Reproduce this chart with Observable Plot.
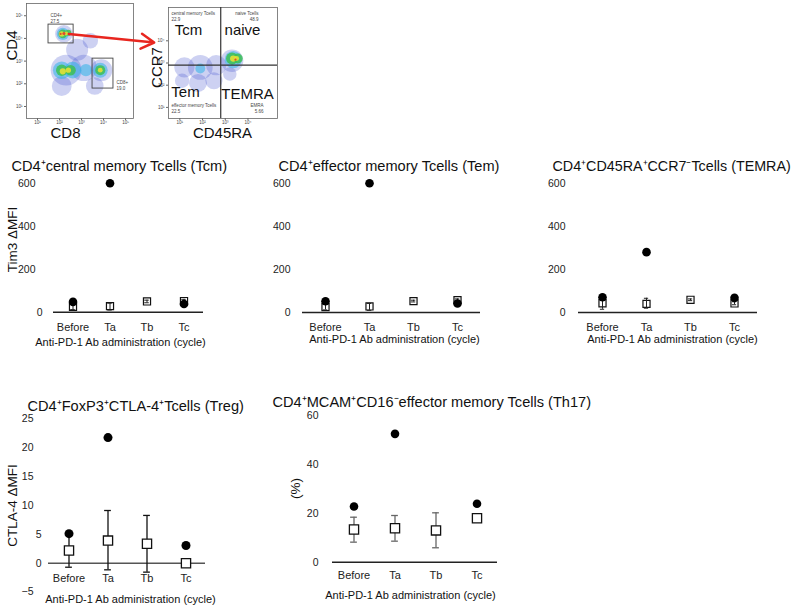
<!DOCTYPE html>
<html><head><meta charset="utf-8">
<script src="https://cdn.jsdelivr.net/npm/d3@7"></script>
<script src="https://cdn.jsdelivr.net/npm/@observablehq/plot@0.6"></script>
<style>
body{margin:0;background:#fff;}
#fig{position:relative;width:800px;height:612px;overflow:hidden;font-family:"Liberation Sans",Arial,sans-serif;background:#fff;}
#fig svg{position:absolute;}
</style></head><body><div id="fig"></div>
<script>
// ---------- summary panels data ----------
const cycles = ["Before", "Ta", "Tb", "Tc"];
const xTitle = "Anti-PD-1 Ab administration (cycle)";

// Tim3 ΔMFI, CD4+ central memory T cells
const tcmMean = [25, 28, 50, 52];
const tcmLo   = [12, 10, 44, 45];
const tcmHi   = [38, 42, 56, 60];
const tcmDot  = [48, 600, null, 38];
// Tim3 ΔMFI, CD4+ effector memory T cells
const temMean = [25, 28, 53, 57];
const temLo   = [12, 10, 49, 51];
const temHi   = [38, 42, 57, 63];
const temDot  = [52, 600, null, 42];
// Tim3 ΔMFI, TEMRA
const temraMean = [43, 40, 59, 42];
const temraLo   = [15, 20, 55, 36];
const temraHi   = [70, 66, 63, 50];
const temraDot  = [71, 280, null, 68];
// CTLA-4 ΔMFI, Treg
const tregMean = [2.2, 3.9, 3.35, 0];
const tregLo   = [-0.7, -1.15, -1.55, null];
const tregHi   = [5.2, 9.1, 8.25, null];
const tregDot  = [5.1, 21.7, null, 3.05];
// %, Th17
const th17Mean = [13.4, 13.9, 13.0, 18.0];
const th17Lo   = [8.2, 8.6, 5.9, null];
const th17Hi   = [18.4, 19.1, 20.2, null];
const th17Dot  = [22.8, 52.5, null, 23.9];

// ---------- flow cytometry (log10 fluorescence) ----------
// CD8 (x) vs CD4 (y) density clusters
const cd8Log   = [2.3, 3.1, 3.9, 2.8, 2.2, 2.1, 3.6, 3.4, 2.1, 2.6, 3.2, 3.85, 2.15, 2.1, 2.5, 3.85, 2.15, 2.4, 2.15, 2.4, 3.85, 2.1, 2.3, 2.2, 2.05];
const cd4Log   = [2.6, 2.7, 2.6, 3.5, 4.2, 1.9, 1.9, 3.9, 2.6, 2.6, 2.6, 2.6, 4.2, 2.6, 2.6, 2.6, 4.2, 4.25, 2.55, 2.6, 2.6, 4.2, 4.22, 4.22, 4.2];
const cd48Spread = [0.7, 0.6, 0.5, 0.5, 0.4, 0.45, 0.4, 0.35, 0.4, 0.38, 0.28, 0.34, 0.28, 0.26, 0.24, 0.23, 0.2, 0.14, 0.14, 0.12, 0.11, 0.12, 0.09, 0.07, 0.05];
const cd48Level  = [1, 1, 1, 1, 1, 1, 1, 1, 2, 2, 2, 2, 2, 3, 3, 3, 3, 3, 4, 4, 4, 4, 4, 5, 5];
const cd4Gate = {x1: 1.5, x2: 2.64, y1: 3.78, y2: 4.61};
const cd8Gate = {x1: 3.5, x2: 4.45, y1: 1.79, y2: 3.11};
const gateLabels = [
  {x: 1.59, y: 5.0, t: "CD4+"}, {x: 1.59, y: 4.74, t: "27.5"},
  {x: 4.59, y: 2.06, t: "CD8+"}, {x: 4.59, y: 1.79, t: "19.0"}
];
const arrowFrom = [2.42, 4.2], arrowTo = [6.3, 3.82];

// CD45RA (x) vs CCR7 (y) density clusters
const cd45raLog = [1.2, 1.9, 2.6, 3.3, 1.8, 2.5, 1.1, 3.2, 3.35, 1.9, 3.3, 3.55, 3.35, 3.5, 3.45];
const ccr7Log   = [2.8, 2.8, 2.9, 3.1, 2.1, 2.2, 2.2, 2.5, 3.15, 2.75, 3.2, 3.2, 3.2, 3.2, 3.15];
const ccrSpread = [0.45, 0.55, 0.45, 0.5, 0.4, 0.38, 0.32, 0.3, 0.38, 0.22, 0.27, 0.22, 0.14, 0.11, 0.05];
const ccrLevel  = [1, 1, 1, 1, 1, 1, 1, 1, 2, 2, 3, 3, 4, 4, 5];
const quadX = 2.8, quadY = 2.9;
const quadNames = [
  {x: 1.38, y: 4.46, t: "Tcm"}, {x: 3.76, y: 4.46, t: "naive"},
  {x: 1.25, y: 1.68, t: "Tem"}, {x: 3.98, y: 1.58, t: "TEMRA"}
];
const quadSmallLeft = [
  {x: 0.63, y: 5.23, t: "central memory Tcells"}, {x: 0.63, y: 4.96, t: "22.9"},
  {x: 0.63, y: 1.1, t: "effector memory Tcells"}, {x: 0.63, y: 0.83, t: "22.5"}
];
const quadSmallRight = [
  {x: 4.46, y: 5.23, t: "naive Tcells"}, {x: 4.46, y: 4.96, t: "48.9"},
  {x: 4.68, y: 1.1, t: "EMRA"}, {x: 4.68, y: 0.83, t: "5.66"}
];
const decadeTicks = [1, 2, 3, 4, 5];
const sup = {1: "¹", 2: "²", 3: "³", 4: "⁴", 5: "⁵"};

const fig = document.getElementById("fig");
const FONT = '"Liberation Sans", Arial, sans-serif';
const densityColors = ["#2c3fc8", "#2fb2e8", "#3dbf55", "#ece234", "#e5302a"];

function place(svg, x, y) { svg.style.left = x + "px"; svg.style.top = y + "px"; fig.append(svg); }

function flow(c) {
  const rows = c.xs.map((x, i) => ({x, y: c.ys[i], s: c.spread[i], lv: c.level[i]}));
  const fcx = (c.fx1 + c.fx2) / 2, fcy = (c.fy1 + c.fy2) / 2;
  const marks = [
    Plot.dot(rows.filter(d => d.lv === 1), {x: "x", y: "y", r: "s", fill: "lv", fillOpacity: 0.24, clip: true}),
    Plot.dot(rows.filter(d => d.lv === 2), {x: "x", y: "y", r: "s", fill: "lv", fillOpacity: 0.55, clip: true}),
    Plot.dot(rows.filter(d => d.lv > 2), {x: "x", y: "y", r: "s", fill: "lv", fillOpacity: 0.85, clip: true}),
    Plot.frame({stroke: "#666", strokeWidth: 0.8}),
    Plot.axisX(c.ticks, {tickSize: 2, tickPadding: 0, fontSize: 4.5, label: null, tickFormat: d => "10" + sup[d], stroke: "#666", fill: "#444"}),
    Plot.axisY(c.ticks, {tickSize: 2, tickPadding: 2, fontSize: 4.5, label: null, tickFormat: d => "10" + sup[d], stroke: "#666", fill: "#444"}),
    Plot.text([c.xLab], {text: d => d, frameAnchor: "bottom", textAnchor: "middle", dx: c.xLabX - fcx, dy: c.xLabY - c.fy2, fontSize: 15, fill: "#111"}),
    Plot.text([c.yLab], {text: d => d, frameAnchor: "left", textAnchor: "middle", rotate: -90, dx: c.yLabX - c.fx1, dy: c.yLabY - fcy, fontSize: 15, fill: "#111"}),
    ...c.extra
  ];
  const svg = Plot.plot({
    width: c.sw, height: c.sh,
    marginLeft: c.fx1 - c.sx, marginRight: c.sx + c.sw - c.fx2,
    marginTop: c.fy1 - c.sy, marginBottom: c.sy + c.sh - c.fy2,
    x: {domain: c.xDomain, label: null}, y: {domain: c.yDomain, label: null},
    r: {type: "linear", domain: [0, 1], range: [0, c.pxPerDecade]},
    color: {type: "ordinal", domain: [1, 2, 3, 4, 5], range: densityColors},
    style: {background: "transparent", overflow: "visible", fontFamily: FONT},
    marks
  });
  place(svg, c.sx, c.sy);
}

// CD45RA / CCR7 (drawn first, underneath)
flow({
  sx: 150, sy: 0, sw: 140, sh: 145, fx1: 168, fx2: 277, fy1: 7, fy2: 118,
  xDomain: [0.5, 5.3], yDomain: [0.5, 5.5], pxPerDecade: 22.5,
  xs: cd45raLog, ys: ccr7Log, spread: ccrSpread, level: ccrLevel, ticks: [1, 2, 3, 4],
  xLab: "CD45RA", xLabX: 222, xLabY: 137.5, yLab: "CCR7", yLabX: 157, yLabY: 67,
  extra: [
    Plot.ruleX([quadX], {stroke: "#333", strokeWidth: 1.2}),
    Plot.ruleY([quadY], {stroke: "#333", strokeWidth: 1.2}),
    Plot.text(quadNames, {x: "x", y: "y", text: "t", fontSize: 15, fill: "#111"}),
    Plot.text(quadSmallLeft, {x: "x", y: "y", text: "t", textAnchor: "start", fontSize: 4.5, fill: "#444"}),
    Plot.text(quadSmallRight, {x: "x", y: "y", text: "t", textAnchor: "end", fontSize: 4.5, fill: "#444"})
  ]
});

// CD8 / CD4 with gates and arrow
flow({
  sx: 0, sy: 0, sw: 170, sh: 145, fx1: 26, fx2: 133, fy1: 3, fy2: 118,
  xDomain: [0.5, 5.36], yDomain: [0.47, 5.54], pxPerDecade: 22,
  xs: cd8Log, ys: cd4Log, spread: cd48Spread, level: cd48Level, ticks: decadeTicks,
  xLab: "CD8", xLabX: 65, xLabY: 137.5, yLab: "CD4", yLabX: 12, yLabY: 45,
  extra: [
    Plot.rect([cd4Gate, cd8Gate], {x1: "x1", x2: "x2", y1: "y1", y2: "y2", fill: "none", stroke: "#444", strokeWidth: 0.9}),
    Plot.text(gateLabels, {x: "x", y: "y", text: "t", textAnchor: "start", fontSize: 4.5, fill: "#444"}),
    Plot.arrow([{a: arrowFrom, b: arrowTo}], {x1: d => d.a[0], y1: d => d.a[1], x2: d => d.b[0], y2: d => d.b[1], stroke: "#e8261f", strokeWidth: 2.5, headLength: 9})
  ]
});

function panel(c) {
  const rows = cycles.map((k, i) => ({cat: k, mean: c.mean[i], lo: c.lo[i], hi: c.hi[i], dot: c.dot[i]}));
  const bw = (c.fx2 - c.fx1) / cycles.length;
  const inset = (bw - c.capW) / 2;
  const errRows = rows.filter(d => d.lo != null);
  const eStyle = {stroke: c.errColor, strokeWidth: c.errW};
  const err = [
    Plot.ruleX(errRows, {x: "cat", y1: "lo", y2: "hi", ...eStyle}),
    Plot.tickY(errRows, {x: "cat", y: "lo", insetLeft: inset, insetRight: inset, ...eStyle}),
    Plot.tickY(errRows, {x: "cat", y: "hi", insetLeft: inset, insetRight: inset, ...eStyle})
  ];
  const sq = Plot.dot(rows, {x: "cat", y: "mean", symbol: "square", r: c.sqR, fill: "white", stroke: "#111", strokeWidth: c.sqW});
  const dots = Plot.dot(rows.filter(d => d.dot != null), {x: "cat", y: "dot", r: c.dotR, fill: "#000"});
  const fcx = (c.fx1 + c.fx2) / 2, fcy = (c.fyTop + c.fyBot) / 2;
  const axisStyle = {tickSize: 0, fontSize: c.tickFont, label: null, fill: "#222"};
  const marks = [
    Plot.ruleY([0], {stroke: c.baseColor, strokeWidth: 1.5}),
    ...(c.errOnTop ? [sq, ...err] : [...err, sq]),
    dots,
    Plot.axisY({ticks: c.ticks, tickPadding: c.fx1 - c.tickRight, ...axisStyle}),
    Plot.axisX({tickSize: 0, tickPadding: c.catY - c.fyBot - 4, fontSize: 11, label: null, fill: "#222"}),
    Plot.text([c.title], {text: d => d, frameAnchor: "top-left", textAnchor: "start", dx: c.titleX - c.fx1, dy: c.titleY - c.fyTop, fontSize: c.titleFont, fill: "#111"}),
    Plot.text([xTitle], {text: d => d, frameAnchor: "bottom", textAnchor: "middle", dx: c.xLabX - fcx, dy: c.xLabY - c.fyBot, fontSize: 11, fill: "#111"})
  ];
  if (c.shortTicks) marks.push(Plot.axisY({ticks: c.shortTicks, tickPadding: c.fx1 - c.shortRight, ...axisStyle}));
  if (c.yLab) marks.push(Plot.text([c.yLab], {text: d => d, frameAnchor: "left", textAnchor: "middle", rotate: -90, dx: c.yLabX - c.fx1, dy: c.yLabY - fcy, fontSize: 13.5, fill: "#111"}));
  const svg = Plot.plot({
    width: c.sw, height: c.sh,
    marginLeft: c.fx1 - c.sx, marginRight: c.sx + c.sw - c.fx2,
    marginTop: c.fyTop - c.sy, marginBottom: c.sy + c.sh - c.fyBot,
    x: {type: "band", domain: cycles, padding: 0},
    y: {domain: c.yDomain},
    style: {background: "transparent", overflow: "visible", fontFamily: FONT},
    marks
  });
  place(svg, c.sx, c.sy);
}

const topCommon = {sy: 145, sh: 215, yDomain: [0, 600], ticks: [0, 200, 400, 600], tickFont: 10.5,
  catY: 327, capW: 5, sqR: 4, sqW: 1.2, dotR: 4.3, errColor: "#222", errW: 1, baseColor: "#222", errOnTop: true};

panel({...topCommon, sx: 0, sw: 265, fx1: 53, fx2: 203, fyTop: 182.7, fyBot: 311.7,
  ticks: [200, 400, 600], tickRight: 35, shortTicks: [0], shortRight: 42,
  title: "CD4⁺central memory Tcells (Tcm)", titleX: 11, titleY: 160, titleFont: 14.6,
  yLab: "Tim3 ΔMFI", yLabX: 12, yLabY: 239, xLabX: 120, xLabY: 345,
  mean: tcmMean, lo: tcmLo, hi: tcmHi, dot: tcmDot});

panel({...topCommon, sx: 265, sw: 270, fx1: 302, fx2: 480, fyTop: 182.7, fyBot: 312, tickRight: 290,
  title: "CD4⁺effector memory Tcells (Tem)", titleX: 278, titleY: 160, titleFont: 14.6,
  xLabX: 394, xLabY: 342,
  mean: temMean, lo: temLo, hi: temHi, dot: temDot});

panel({...topCommon, sx: 535, sw: 265, fx1: 578, fx2: 757, fyTop: 182.7, fyBot: 312, tickRight: 565,
  title: "CD4⁺CD45RA⁺CCR7⁻Tcells (TEMRA)", titleX: 552, titleY: 160, titleFont: 14.3,
  xLabX: 672, xLabY: 342,
  mean: temraMean, lo: temraLo, hi: temraHi, dot: temraDot});

panel({sx: 0, sy: 380, sw: 265, sh: 232, fx1: 48, fx2: 205, fyTop: 418, fyBot: 591.6,
  yDomain: [-5, 25], ticks: [-5, 10, 15, 20, 25], tickFont: 10.5, tickRight: 33, shortTicks: [0, 5], shortRight: 41,
  title: "CD4⁺FoxP3⁺CTLA-4⁺Tcells (Treg)", titleX: 27, titleY: 400, titleFont: 14.6,
  yLab: "CTLA-4 ΔMFI", yLabX: 12, yLabY: 505, catY: 578, xLabX: 130, xLabY: 602,
  capW: 7, sqR: 5.2, sqW: 1.3, dotR: 4.5, errColor: "#111", errW: 1.3, baseColor: "#555", errOnTop: false,
  mean: tregMean, lo: tregLo, hi: tregHi, dot: tregDot});

panel({sx: 265, sy: 380, sw: 320, sh: 232, fx1: 332, fx2: 497, fyTop: 415, fyBot: 561.7,
  yDomain: [0, 60], ticks: [0, 20, 40, 60], tickFont: 10.5, tickRight: 318,
  title: "CD4⁺MCAM⁺CD16⁻effector memory Tcells (Th17)", titleX: 272, titleY: 396, titleFont: 14.6,
  yLab: "(%)", yLabX: 295, yLabY: 488, catY: 575, xLabX: 410, xLabY: 598,
  capW: 7, sqR: 5.2, sqW: 1.3, dotR: 4.3, errColor: "#666", errW: 1.3, baseColor: "#222", errOnTop: false,
  mean: th17Mean, lo: th17Lo, hi: th17Hi, dot: th17Dot});
</script>
</body></html>
